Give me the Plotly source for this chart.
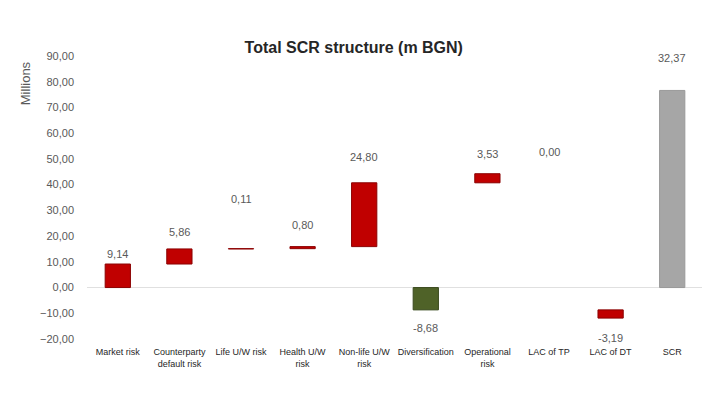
import plotly.graph_objects as go

categories = ["Market risk", "Counterparty<br>default risk", "Life U/W risk", "Health U/W<br>risk",
              "Non-life U/W<br>risk", "Diversification", "Operational<br>risk", "LAC of TP",
              "LAC of DT", "SCR"]
label_values = [9.14, 5.86, 0.11, 0.80, 24.80, -8.68, 3.53, 0.00, -3.19, 32.37]
# bar extents as drawn in the source chart (stacked Excel waterfall)
bar_base = [0.00, 9.14, 15.00, 15.11, 15.91, 0.00, 40.71, 44.24, -8.68, 0.00]
bar_height = [9.14, 5.86, 0.11, 0.80, 24.80, -8.68, 3.53, 0.00, -3.19, 76.61]
tick_vals = [-20, -10, 0, 10, 20, 30, 40, 50, 60, 70, 80, 90]

RED, RED_EDGE = "#C00000", "#8B0000"
GREEN, GREEN_EDGE = "#4F6228", "#3A4A1E"
GRAY, GRAY_EDGE = "#A6A6A6", "#999999"

fill = []
edge = []
edge_w = []
for i, v in enumerate(label_values):
    if categories[i] == "SCR":
        fill.append(GRAY); edge.append(GRAY_EDGE)
    elif categories[i] == "Diversification":
        fill.append(GREEN); edge.append(GREEN_EDGE)
    else:
        fill.append(RED); edge.append(RED_EDGE)
    edge_w.append(0 if bar_height[i] == 0 else 1)

fig = go.Figure()
fig.add_trace(go.Bar(
    x=categories, y=bar_height, base=bar_base,
    marker=dict(color=fill, line=dict(color=edge, width=edge_w)),
    width=0.41, hoverinfo="skip", showlegend=False,
))

label_shift = [10, 17, 50, 22, 26, -18, 20, 22, -20, 32]
for i, v in enumerate(label_values):
    end = bar_base[i] + bar_height[i]
    txt = f"{v:.2f}".replace(".", ",")
    fig.add_annotation(x=categories[i], y=end, text=txt, showarrow=False,
                       yshift=label_shift[i], yanchor="middle",
                       font=dict(size=11, color="#595959"))

fig.add_annotation(xref="paper", yref="paper", x=-0.1, y=0.99, text="Millions",
                   textangle=-90, showarrow=False, xanchor="center", yanchor="top",
                   font=dict(size=13, color="#595959"))

fig.update_layout(
    width=710, height=412,
    margin=dict(l=79, r=15, t=48, b=81),
    paper_bgcolor="white", plot_bgcolor="white",
    separators=",.",
    font=dict(family="Liberation Sans Narrow, Arial Narrow, Liberation Sans, sans-serif", color="#595959"),
    title=dict(text="<b>Total SCR structure (m BGN)</b>", x=0.487, xanchor="center", y=0.905, yanchor="middle",
               font=dict(size=16, color="#262626", family="Liberation Sans Narrow, Arial Narrow, sans-serif")),
    bargap=0.59,
    xaxis=dict(showgrid=False, showline=False, ticks="", tickfont=dict(size=9, color="#262626"),
               ticklabelstandoff=6),
    yaxis=dict(range=[-20, 90], tickvals=tick_vals, tickformat=".2f", showgrid=False,
               zeroline=True, zerolinecolor="#E0E0E0", zerolinewidth=1, showline=False,
               tickfont=dict(size=11, color="#595959"), ticklabelstandoff=12),
)

fig.write_html("out.html")
